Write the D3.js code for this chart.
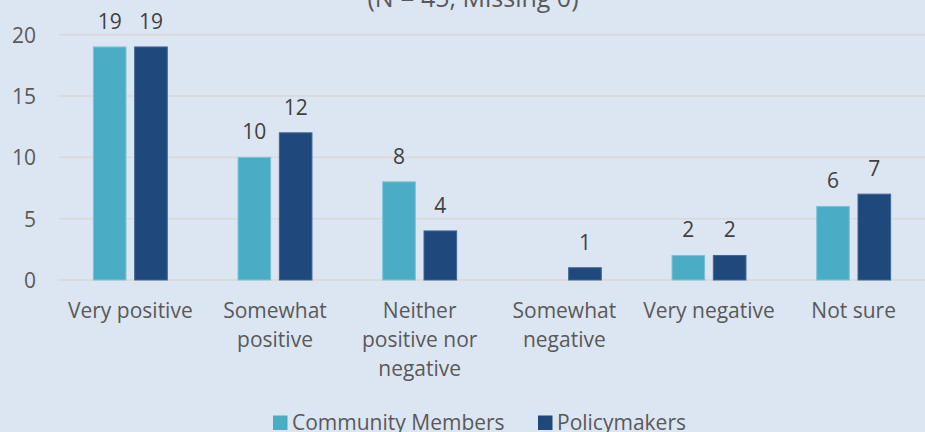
<!DOCTYPE html>
<html>
<head>
<meta charset="utf-8">
<script src="https://cdn.jsdelivr.net/npm/d3@7"></script>
<style>
  html, body { margin: 0; padding: 0; background: #dce6f2; }
  svg { display: block; font-family: "Open Sans", sans-serif; }
</style>
</head>
<body>
<svg id="chart"></svg>
<script>
// chart data
var categories = [
  ["Very positive"],
  ["Somewhat", "positive"],
  ["Neither", "positive nor", "negative"],
  ["Somewhat", "negative"],
  ["Very negative"],
  ["Not sure"]
];
var seriesNames = ["Community Members", "Policymakers"];
var community = [19, 10, 8, 0, 2, 6];
var policymakers = [19, 12, 4, 1, 2, 7];
var yTicks = [0, 5, 10, 15, 20];
var title = "(N = 45, Missing 0)";

var width = 925, height = 432;
var colors = ["#4bacc6", "#1f497d"];
var borders = ["#7cc3d6", "#3f6696"];

var svg = d3.select("#chart").attr("width", width).attr("height", height);

svg.append("rect").attr("width", width).attr("height", height).attr("fill", "#dce6f2");

//scales
var x0 = d3.scaleBand().domain(d3.range(categories.length)).range([58, 926]).paddingInner(0.489).paddingOuter(0.2445);
var x1 = d3.scaleBand().domain([0, 1]).range([0, x0.bandwidth()]).paddingInner(0.21).paddingOuter(0);
var y = d3.scaleLinear().domain([0, 20]).range([280, 34.7]);

//title (upper part cut off by the frame)
svg.append("text").attr("x", 473).attr("y", 6.5)
  .attr("text-anchor", "middle").attr("font-size", "25px").attr("fill", "#595959")
  .text(title);

//gridlines
svg.append("g").selectAll("line").data(yTicks).enter().append("line")
  .attr("x1", 58).attr("x2", width)
  .attr("y1", function(d) { return y(d); }).attr("y2", function(d) { return y(d); })
  .attr("stroke", "#d9d9d9").attr("stroke-width", 1.5);

//y axis
var yAxis = d3.axisLeft(y).tickValues(yTicks).tickSize(0).tickPadding(0);
var ya = svg.append("g").attr("transform", "translate(36,0)").call(yAxis);
ya.select(".domain").remove();
ya.selectAll("text").attr("font-size", "21px").attr("fill", "#595959")
  .attr("font-family", "Open Sans, sans-serif").attr("dy", "0.36em");

//bars and data labels
var rows = categories.map(function(c, i) {
  return [community[i], policymakers[i]].map(function(v, j) { return { s: j, v: v }; });
});
var groups = svg.append("g").selectAll("g").data(rows).enter().append("g")
  .attr("transform", function(d, i) { return "translate(" + x0(i) + ",0)"; });

var cells = groups.selectAll("g").data(function(d) { return d.filter(function(e) { return e.v > 0; }); })
  .enter().append("g");

cells.append("rect")
  .attr("x", function(d) { return x1(d.s); })
  .attr("width", x1.bandwidth())
  .attr("y", function(d) { return y(d.v); })
  .attr("height", function(d) { return y(0) - y(d.v); })
  .attr("fill", function(d) { return colors[d.s]; })
  .attr("stroke", function(d) { return borders[d.s]; }).attr("stroke-width", 1);

cells.append("text")
  .attr("x", function(d) { return x1(d.s) + x1.bandwidth() / 2; })
  .attr("y", function(d) { return y(d.v) - 18; })
  .attr("text-anchor", "middle").attr("font-size", "21px").attr("fill", "#404040")
  .text(function(d) { return d.v; });

//x axis labels
var xl = svg.append("g").selectAll("text").data(categories).enter().append("text")
  .attr("text-anchor", "middle").attr("font-size", "21px").attr("fill", "#595959")
  .attr("transform", function(d, i) { return "translate(" + (x0(i) + x0.bandwidth() / 2) + ",318)"; });
xl.selectAll("tspan").data(function(d) { return d; }).enter().append("tspan")
  .attr("x", 0).attr("y", function(d, k) { return k * 29; })
  .text(function(d) { return d; });

//legend
var legendX = [273, 538];
var lg = svg.append("g").selectAll("g").data(seriesNames).enter().append("g")
  .attr("transform", function(d, i) { return "translate(" + legendX[i] + ",0)"; });
lg.append("rect").attr("x", 0).attr("y", 415.5).attr("width", 14.5).attr("height", 14.5)
  .attr("fill", function(d, i) { return colors[i]; });
lg.append("text").attr("x", 19).attr("y", 430).attr("font-size", "21px").attr("fill", "#595959")
  .text(function(d) { return d; });
</script>
</body>
</html>
